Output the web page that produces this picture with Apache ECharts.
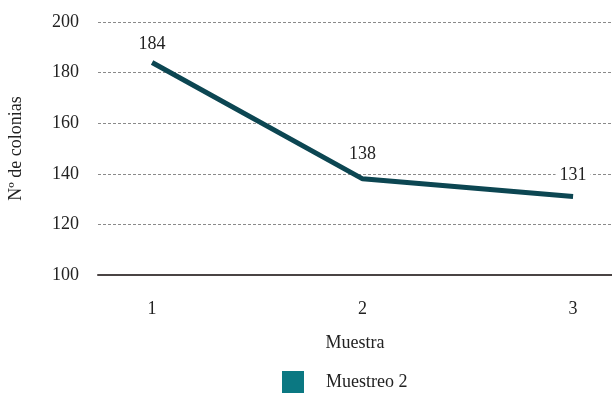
<!DOCTYPE html>
<html>
<head>
<meta charset="utf-8">
<script src="https://cdn.jsdelivr.net/npm/echarts@6/dist/echarts.min.js"></script>
<style>
  html, body { margin: 0; padding: 0; background: #fff; }
  #chart { width: 612px; height: 393px; }
</style>
</head>
<body>
<div id="chart"></div>
<script>
const muestras = [1, 2, 3];
const colonias = [184, 138, 131];
const yTicks = [100, 120, 140, 160, 180, 200];
const serieName = 'Muestreo 2';

// distance of each value label above its point
const labelGap = [8, 15, 11];

const font = '"Liberation Serif", "DejaVu Serif", serif';
let chart = echarts.init(document.getElementById('chart'));
chart.setOption({
  animation: false,
  textStyle: { fontFamily: font, color: '#222' },
  grid: { left: 98, right: 0, top: 22, bottom: 118, outerBoundsMode: 'none', containLabel: false },
  legend: {
    bottom: 0,
    left: 282,
    padding: 0,
    icon: 'rect',
    itemWidth: 22,
    itemHeight: 22,
    textStyle: { fontFamily: font, fontSize: 18, color: '#222', padding: [0, 0, 0, 17] },
    data: [{ name: serieName, itemStyle: { color: '#0b7882' } }]
  },
  xAxis: {
    type: 'value',
    min: 0.743,
    max: 3.185,
    name: 'Muestra',
    nameLocation: 'middle',
    nameGap: 59,
    nameTextStyle: { fontFamily: font, fontSize: 18, color: '#222' },
    axisLine: { show: true, onZero: false, lineStyle: { color: '#4a4444', width: 2 } },
    axisTick: { show: false },
    splitLine: { show: false },
    axisLabel: {
      customValues: muestras,
      margin: 25,
      fontFamily: font,
      fontSize: 18,
      color: '#222'
    }
  },
  yAxis: {
    type: 'value',
    min: 100,
    max: 200,
    interval: 20,
    name: 'Nº de colonias',
    nameLocation: 'middle',
    nameGap: 73,
    nameTextStyle: { fontFamily: font, fontSize: 18, color: '#222' },
    axisLine: { show: false },
    axisTick: { show: false },
    axisLabel: {
      margin: 19,
      fontFamily: font,
      fontSize: 18,
      color: '#222',
      customValues: yTicks
    },
    splitLine: { lineStyle: { color: '#8a8a8a', type: [3, 2], width: 1 } }
  },
  series: [{
    name: serieName,
    type: 'line',
    data: muestras.map((m, i) => ({ value: [m, colonias[i]], label: { distance: labelGap[i] } })),
    symbol: 'circle',
    symbolSize: 0,
    itemStyle: { color: '#0b7882' },
    lineStyle: { color: '#0c4652', width: 5, cap: 'butt' },
    label: {
      show: true,
      position: 'top',
      fontFamily: font,
      fontSize: 18,
      color: '#222',
      backgroundColor: '#fff',
      padding: [1, 4],
      formatter: p => p.value[1]
    },
    labelLayout: { hideOverlap: false }
  }]
});
</script>
</body>
</html>
